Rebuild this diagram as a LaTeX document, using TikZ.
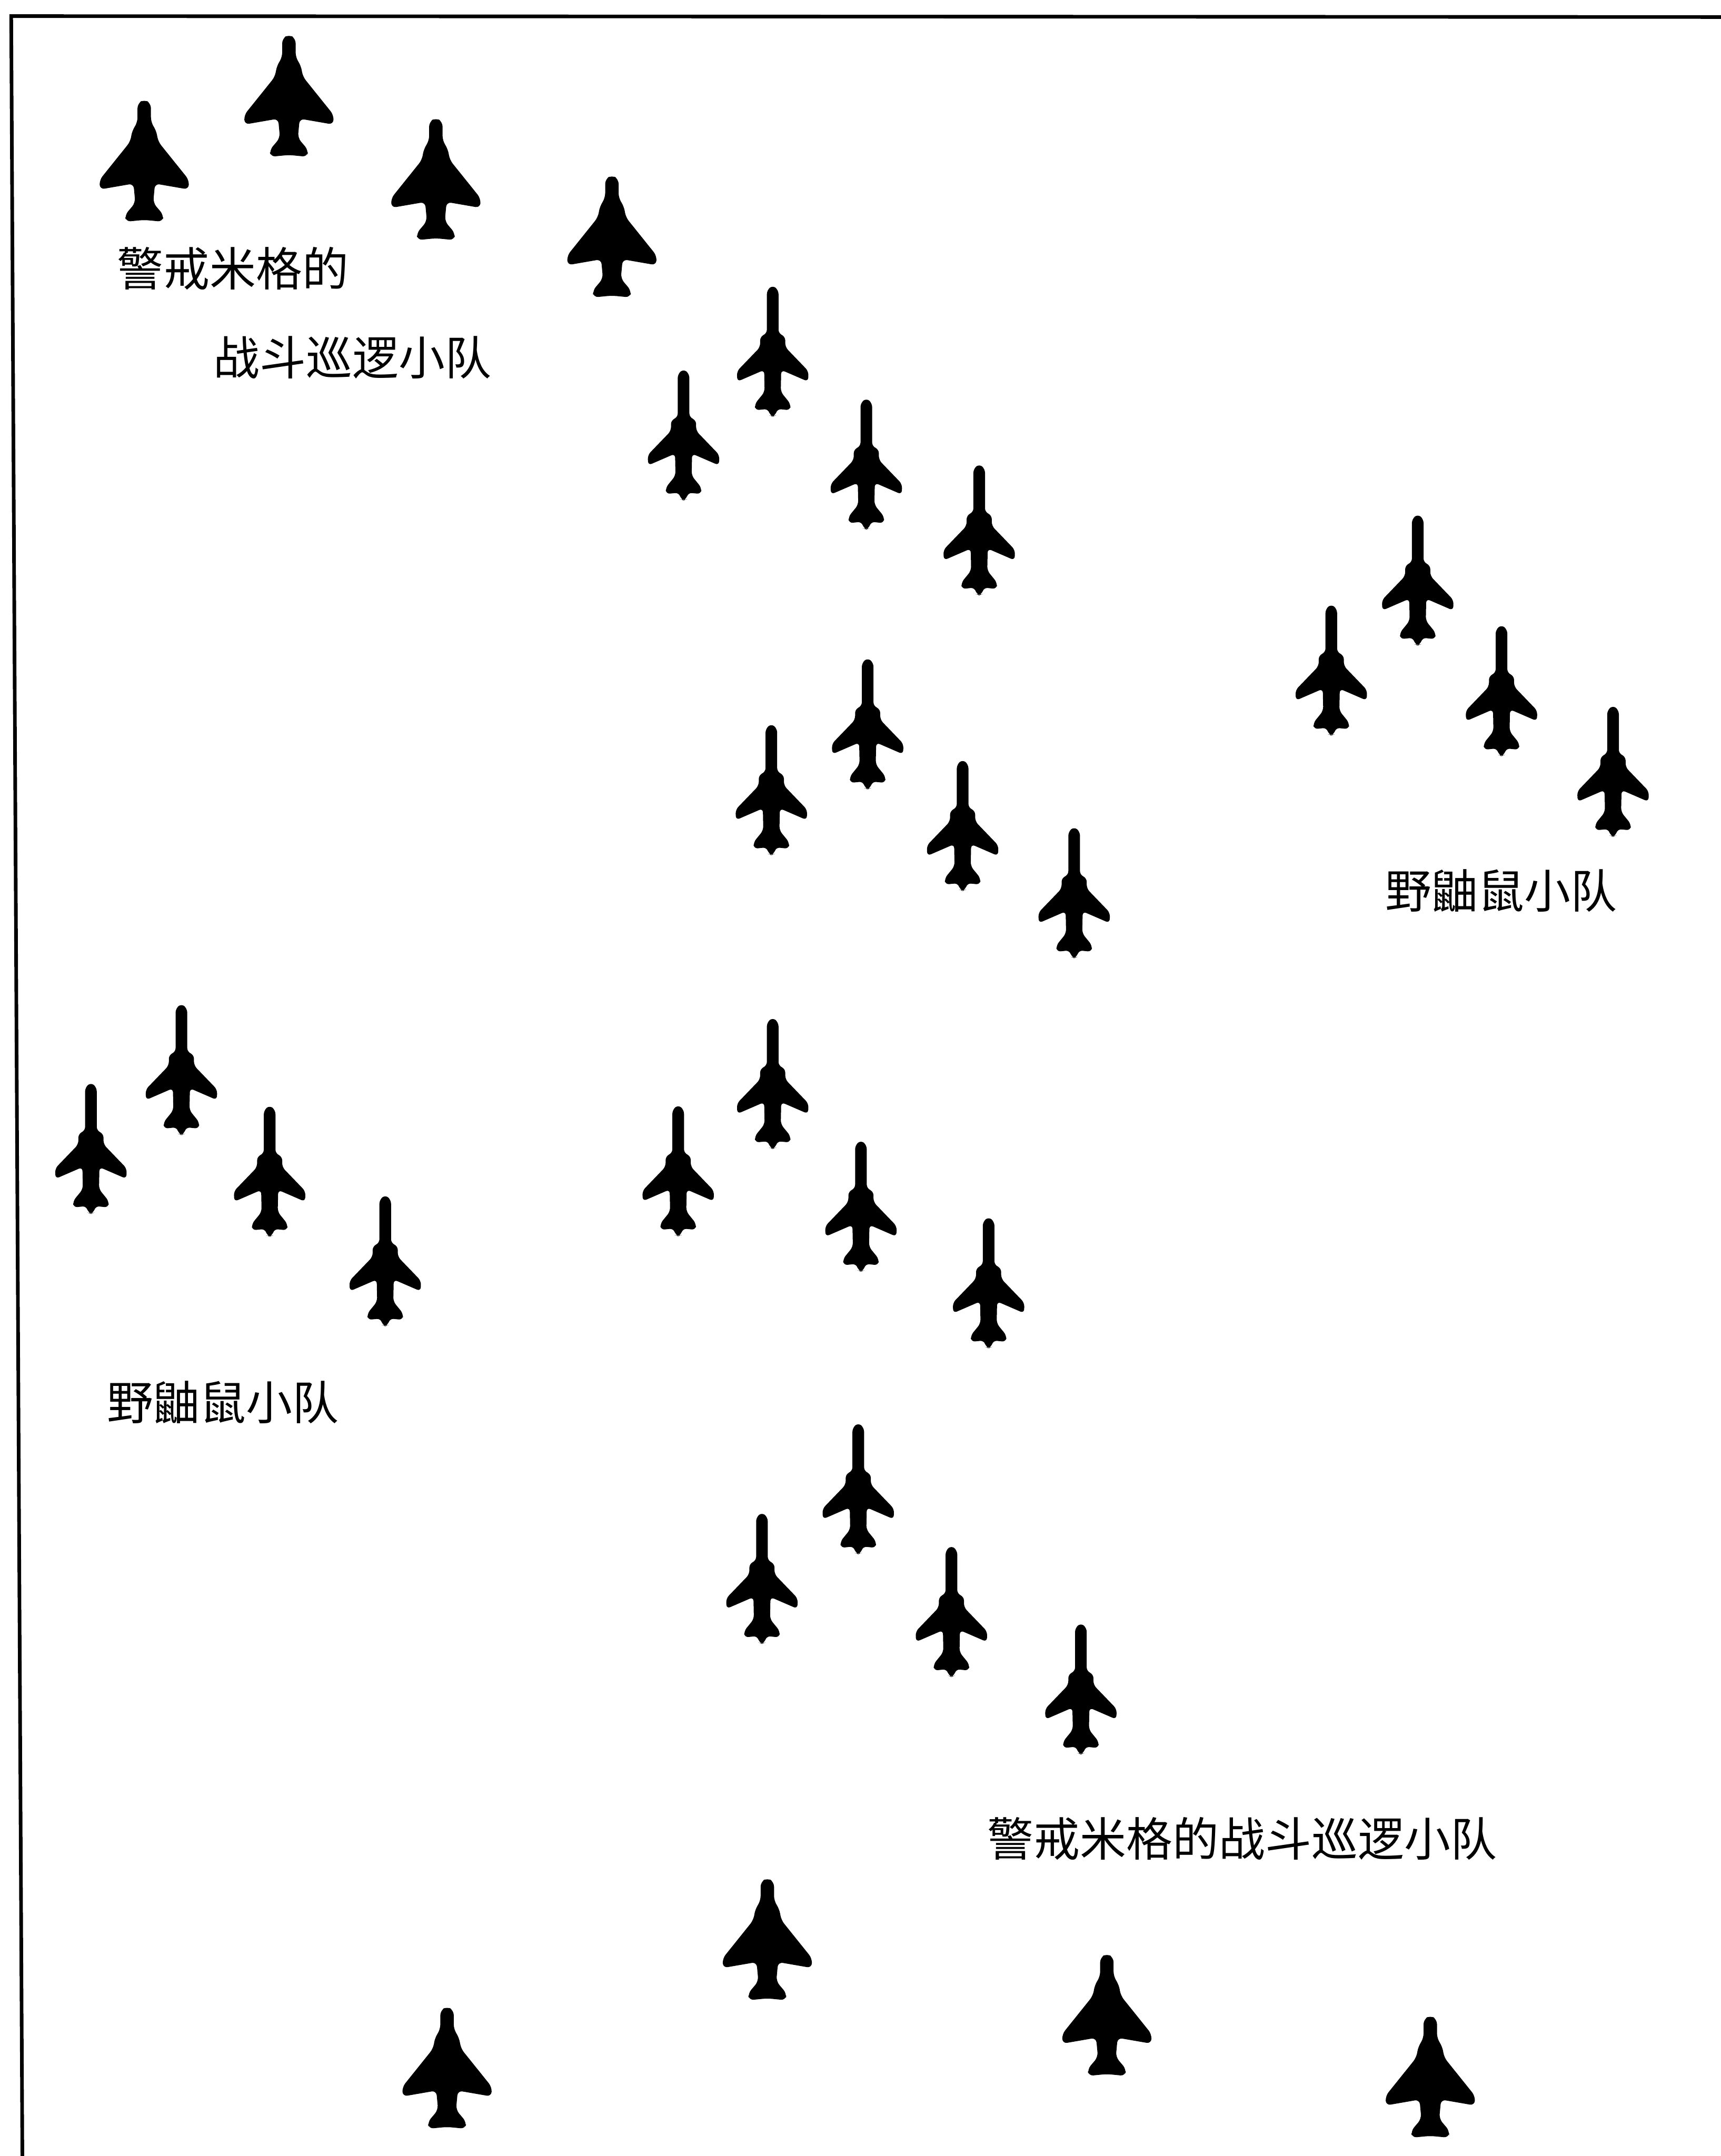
\documentclass[tikz,border=0pt]{standalone}
\usepackage{fontspec}
\newfontfamily\cjk{Noto Sans CJK SC}
\usetikzlibrary{positioning}

\tikzset{
  % F-4 silhouette, nose up, origin mid-length
  phantom/.pic={
    \fill[rounded corners=3pt]
      (0,1.36) -- (0.15,1.27) -- (0.15,0.85) -- (0.27,0.66) -- (0.31,0.42)
      -- (1.00,-0.44) -- (0.99,-0.65) -- (0.24,-0.52) -- (0.20,-0.95)
      -- (0.43,-1.22) -- (0.41,-1.37) -- (0,-1.33)
      -- (-0.41,-1.37) -- (-0.43,-1.22) -- (-0.20,-0.95) -- (-0.24,-0.52)
      -- (-0.99,-0.65) -- (-1.00,-0.44) -- (-0.31,0.42) -- (-0.27,0.66)
      -- (-0.15,0.85) -- (-0.15,1.27) -- cycle;
  },
  % F-105 silhouette, long needle nose
  thud/.pic={
    \fill[rounded corners=2.5pt]
      (0,1.46) -- (0.13,1.35) -- (0.13,0.38) -- (0.28,0.32) -- (0.28,0.08)
      -- (0.80,-0.46) -- (0.79,-0.69) -- (0.19,-0.43) -- (0.18,-0.92)
      -- (0.40,-1.19) -- (0.39,-1.33) -- (0.10,-1.30) -- (0.06,-1.45) -- (0,-1.47)
      -- (-0.06,-1.45) -- (-0.10,-1.30) -- (-0.39,-1.33) -- (-0.40,-1.19)
      -- (-0.18,-0.92) -- (-0.19,-0.43) -- (-0.79,-0.69) -- (-0.80,-0.46)
      -- (-0.28,0.08) -- (-0.28,0.32) -- (-0.13,0.38) -- (-0.13,1.35) -- cycle;
  }
}

\begin{document}
\begin{tikzpicture}[
      frame/.style={line width=2.3pt},
      lbl/.style={anchor=west, inner sep=0pt,
                  font=\cjk\fontsize{29.4pt}{31pt}\selectfont}]

    \useasboundingbox (0,0) rectangle (38.41,-48.14);

    % page frame (only top and left edges fall inside)
    \draw[frame] (0.50,-48.30) -- (0.25,-0.36) -- (38.60,-0.38);

    % MiG CAP flight, top left
    \pic (capa1) at (3.22,-3.58) {phantom};
    \pic (capa2) at (6.45,-2.13) {phantom};
    \pic (capa3) at (9.73,-3.99) {phantom};
    \pic (capa4) at (13.66,-5.27) {phantom};
    \node[lbl] (capalbl1) at (2.61,-5.99) {警戒米格的};
    \node[lbl] (capalbl2) at (4.76,-7.98) {战斗巡逻小队};

    % strike flight 1
    \pic (stra1) at (15.26,-9.70) {thud};
    \pic (stra2) at (17.25,-7.83) {thud};
    \pic (stra3) at (19.34,-10.35) {thud};
    \pic (stra4) at (21.86,-11.82) {thud};

    % strike flight 2
    \pic (strb1) at (17.22,-17.62) {thud};
    \pic (strb2) at (19.37,-16.15) {thud};
    \pic (strb3) at (21.49,-18.42) {thud};
    \pic (strb4) at (23.98,-19.92) {thud};

    % Wild Weasel flight, right
    \pic (wwa1) at (29.72,-14.95) {thud};
    \pic (wwa2) at (31.65,-12.94) {thud};
    \pic (wwa3) at (33.52,-15.41) {thud};
    \pic (wwa4) at (36.01,-17.21) {thud};
    \node[lbl] (wwalbl) at (30.92,-19.89) {野鼬鼠小队};

    % Wild Weasel flight, left
    \pic (wwb1) at (2.03,-25.63) {thud};
    \pic (wwb2) at (4.05,-23.87) {thud};
    \pic (wwb3) at (6.02,-26.14) {thud};
    \pic (wwb4) at (8.60,-28.14) {thud};
    \node[lbl] (wwblbl) at (2.39,-31.31) {野鼬鼠小队};

    % strike flight 3
    \pic (strc1) at (15.14,-26.13) {thud};
    \pic (strc2) at (17.25,-24.18) {thud};
    \pic (strc3) at (19.22,-26.92) {thud};
    \pic (strc4) at (22.07,-28.63) {thud};

    % strike flight 4
    \pic (strd1) at (17.01,-35.23) {thud};
    \pic (strd2) at (19.16,-33.23) {thud};
    \pic (strd3) at (21.24,-35.97) {thud};
    \pic (strd4) at (24.13,-37.70) {thud};

    % MiG CAP flight, bottom
    \node[lbl] (capblbl) at (22.04,-41.05) {警戒米格的战斗巡逻小队};
    \pic (capb1) at (17.13,-43.29) {phantom};
    \pic (capb2) at (9.98,-46.16) {phantom};
    \pic (capb3) at (24.71,-44.98) {phantom};
    \pic (capb4) at (31.93,-46.36) {phantom};

    \end{tikzpicture}
\end{document}
